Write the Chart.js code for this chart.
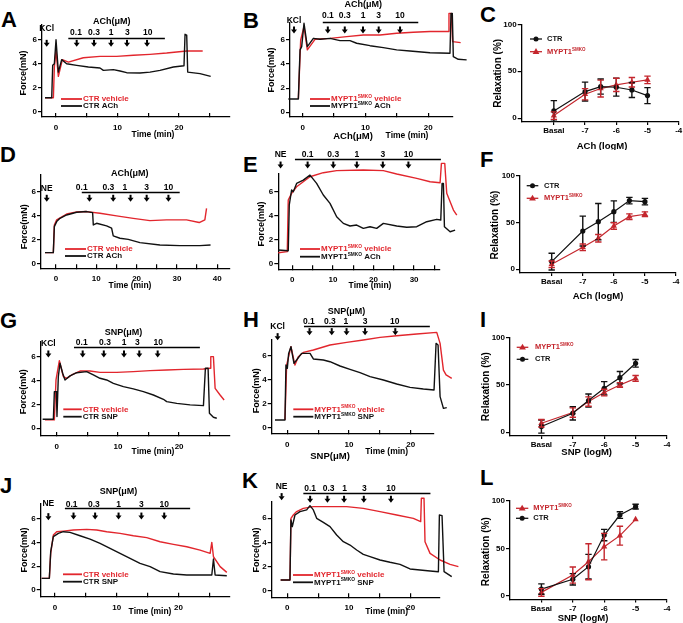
<!DOCTYPE html>
<html lang="en">
<head>
<meta charset="UTF-8">
<title>ACh / SNP relaxation, CTR vs MYPT1 SMKO</title>
<script src="https://cdn.jsdelivr.net/npm/chart.js"></script>
<style>
  body { margin: 0; width: 683px; height: 623px; position: relative; overflow: hidden; background: #fff;
         font-family: "Liberation Sans", Arial, sans-serif; }
  canvas { position: absolute; }
  .tag { position: absolute; font-weight: bold; font-size: 22px; line-height: 22px; color: #000; }
</style>
</head>
<body>
<div class="tag" style="left:1px;top:9px">A</div>
<div class="tag" style="left:243px;top:10px">B</div>
<div class="tag" style="left:480px;top:4px">C</div>
<div class="tag" style="left:0px;top:144px">D</div>
<div class="tag" style="left:243px;top:154px">E</div>
<div class="tag" style="left:480px;top:149px">F</div>
<div class="tag" style="left:0px;top:310px">G</div>
<div class="tag" style="left:243px;top:309px">H</div>
<div class="tag" style="left:480px;top:309px">I</div>
<div class="tag" style="left:0px;top:475px">J</div>
<div class="tag" style="left:242px;top:470px">K</div>
<div class="tag" style="left:480px;top:467px">L</div>
<script>
const RED = '#e2262d';
const DOSE_RED = '#c4262d';
const BLACK = '#111111';
const FONT = '"Liberation Sans", Arial, sans-serif';

// ---------- force traces, points are [time (min), force (mN)] ----------
const A_vehicle = [[-1.79,1.19],[-0.43,1.19],[-0.27,3.73],[0,5.11],[0.38,2.96],[1.03,4.34],[2.01,4.14],[4.44,4.5],[7.15,4.61],[9.86,4.61],[12.57,4.7],[15.28,4.78],[17.99,4.89],[21.25,5.06],[23.85,5.06]];
const A_drug = [[-1.79,1.19],[-0.7,1.19],[-0.54,3.87],[-0.27,4.0],[0,5.99],[0.38,3.31],[0.92,4.34],[1.73,4.0],[3.36,3.87],[5.26,3.73],[7.15,3.65],[7.7,3.45],[9.32,3.51],[10.41,3.4],[11.49,3.26],[13.66,3.23],[15.28,3.31],[16.91,3.45],[19.08,3.73],[20.81,3.84],[20.98,6.44],[21.25,6.38],[21.41,3.31],[23.41,3.18],[25.15,2.96]];

const B_vehicle = [[-0.69,1.1],[-0.32,5.99],[0.21,7.1],[0.74,5.17],[1.96,6.05],[4.35,6.13],[7.0,6.27],[9.66,6.41],[12.31,6.41],[14.96,6.55],[17.61,6.63],[20.27,6.69],[23.18,6.69],[23.29,8.2],[23.66,8.2],[23.87,5.86],[25.15,5.77]];
const B_drug = [[-2.28,1.1],[-0.69,1.1],[-0.42,5.17],[-0.16,5.44],[0.21,7.38],[0.74,5.44],[1.7,6.13],[2.76,6.05],[4.35,6.13],[5.94,5.94],[7.53,5.94],[8.59,5.72],[10.72,5.52],[12.84,5.36],[14.96,5.17],[17.08,5.08],[20.27,4.94],[23.45,4.89],[23.61,8.2],[23.82,8.2],[23.98,4.61],[24.77,4.39],[26.1,4.34]];

const D_vehicle = [[-2.73,0.94],[-0.66,0.94],[-0.41,3.23],[0.17,3.65],[2.64,4.14],[5.12,4.31],[7.6,4.34],[10.91,4.2],[15.04,3.98],[19.17,3.78],[23.31,3.59],[27.44,3.65],[32.4,3.65],[35.54,3.43],[36.94,3.65],[37.36,4.61]];
const D_drug = [[-2.73,0.94],[-0.66,0.94],[-0.41,3.09],[0.17,3.51],[0.99,3.78],[2.64,4.06],[5.12,4.28],[7.6,4.34],[9.09,4.25],[9.26,3.23],[10.08,3.37],[12.56,3.15],[13.8,2.96],[14.21,2.32],[15.87,2.13],[17.93,2.04],[20.83,1.77],[25.79,1.57],[30.74,1.52],[35.7,1.52],[38.35,1.57]];

const E_vehicle = [[-3.45,0.89],[-1.23,0.98],[-0.99,5.31],[-0.16,5.87],[1.07,6.42],[2.71,6.84],[4.36,7.26],[7.64,7.6],[10.93,7.77],[17.5,7.82],[22.43,7.77],[25.72,7.49],[30.65,7.12],[33.94,6.84],[36.4,6.76],[36.73,8.38],[37.55,8.38],[38.04,5.87],[39.69,4.47],[40.51,4.05]];
const E_drug = [[-3.45,1.12],[-0.99,1.06],[-0.74,4.89],[-0.16,6.15],[0.25,6.01],[1.07,6.7],[2.71,6.98],[4.36,7.4],[6.0,6.7],[7.64,5.73],[9.29,5.03],[10.93,3.91],[12.57,3.35],[14.22,3.13],[15.86,3.21],[17.5,2.93],[19.15,3.07],[20.79,2.93],[22.43,3.35],[25.72,3.13],[28.18,3.02],[30.65,3.07],[33.11,3.49],[35.58,3.69],[36.57,3.63],[36.89,6.7],[37.22,6.7],[37.47,3.07],[38.87,2.65],[40.1,2.79]];

const G_vehicle = [[-1.91,0.7],[-0.38,0.7],[-0.11,4.05],[0.44,5.67],[1.09,4.33],[1.63,4.19],[2.45,4.47],[3.81,4.8],[5.45,4.8],[7.08,4.69],[9.81,4.69],[12.53,4.75],[15.26,4.83],[17.98,4.89],[20.71,4.94],[23.98,4.97],[25.07,5.03],[25.18,6.01],[25.61,6.01],[25.89,3.35],[26.7,2.79],[27.36,2.37]];
const G_drug = [[-2.29,0.75],[-0.54,0.75],[-0.38,3.07],[-0.05,3.07],[0.05,0.98],[0.27,4.33],[0.54,5.45],[0.98,4.61],[1.36,4.05],[2.18,4.39],[3.27,4.66],[4.9,4.75],[5.99,4.47],[7.08,4.19],[8.17,4.05],[9.26,3.77],[10.9,3.49],[12.53,3.3],[14.17,3.07],[15.8,2.79],[17.44,2.43],[17.98,2.23],[19.62,2.09],[21.8,1.96],[23.98,1.9],[24.3,5.03],[24.74,5.03],[24.96,1.26],[25.61,0.92],[26.16,0.84]];

const H_vehicle = [[-0.38,0.61],[-0.11,5.22],[0.59,6.76],[1.24,5.22],[1.78,5.92],[2.59,6.28],[4.22,6.48],[6.92,6.9],[9.62,7.12],[12.32,7.32],[15.03,7.54],[17.73,7.68],[20.97,7.82],[24.22,7.96],[24.76,7.04],[25.3,4.8],[25.73,4.39],[26.65,4.11]];
const H_drug = [[-2.0,0.61],[-0.38,0.61],[-0.22,5.22],[0,4.94],[0.22,6.2],[0.59,6.76],[1.08,5.36],[1.51,5.64],[2.32,6.2],[3.68,6.2],[4.22,5.73],[5.84,5.64],[6.92,5.5],[8.54,5.14],[10.16,4.86],[11.78,4.58],[13.41,4.25],[15.57,3.97],[17.73,3.63],[19.89,3.35],[22.05,3.21],[23.78,3.13],[24.11,7.04],[24.43,6.9],[24.76,2.57],[25.3,1.59],[25.84,1.65]];

const J_vehicle = [[-2.16,0.98],[-0.92,0.98],[-0.7,3.07],[-0.27,4.61],[0.27,4.89],[1.35,4.94],[2.97,5.03],[5.14,5.08],[6.76,5.03],[8.38,4.89],[10.54,4.75],[12.7,4.55],[14.86,4.39],[17.03,4.05],[19.19,3.83],[21.35,3.63],[23.51,3.35],[25.14,3.07],[25.41,3.99],[25.68,2.79],[26.76,1.96],[27.84,1.48]];
const J_drug = [[-2.16,0.98],[-0.92,0.98],[-0.7,3.21],[-0.27,4.47],[0.54,4.75],[1.35,4.89],[2.43,4.83],[4.05,4.55],[5.68,4.27],[7.3,3.91],[8.92,3.49],[10.54,3.07],[12.16,2.65],[13.78,2.23],[15.41,1.96],[17.03,1.54],[19.19,1.34],[21.35,1.26],[25.41,1.26],[25.68,2.6],[25.95,1.26],[27.84,1.2]];

const K_vehicle = [[-1.08,0.88],[0.43,0.88],[0.59,5.99],[0.97,6.27],[1.51,6.55],[2.59,6.82],[4.22,6.96],[6.92,6.96],[9.62,6.96],[12.32,6.82],[15.03,6.55],[17.73,6.27],[20.43,5.99],[21.62,5.72],[21.73,7.65],[22.16,7.65],[22.32,4.06],[23.14,3.09],[24.76,2.54],[26.38,2.18],[27.73,1.99]];
const K_drug = [[-1.08,0.88],[0.43,0.88],[0.59,5.86],[0.81,5.3],[1.24,6.27],[2.05,6.55],[3.14,6.69],[3.68,7.04],[4.22,6.69],[4.76,5.99],[5.84,5.66],[6.92,5.3],[8.0,4.61],[9.08,4.06],[10.16,3.78],[11.24,3.37],[12.32,3.01],[13.41,2.82],[15.03,2.54],[16.65,2.35],[18.27,2.18],[19.89,1.8],[21.51,1.71],[23.14,1.63],[24.49,1.57],[24.65,6.27],[25.08,6.22],[25.41,1.57],[26.65,1.16]];

// ---------- drug additions (time, min) ----------
const doseLabels = ['0.1', '0.3', '1', '3', '10'];
const A_labelT = [3.25, 6.18, 8.95, 11.6, 14.9], A_arrowT = [3.36, 6.18, 8.95, 11.54, 14.8], A_bar = [2.0, 17.7];
const B_labelT = [4.0, 6.7, 9.6, 12.1, 15.5], B_arrowT = [4.0, 6.7, 9.6, 12.1, 15.5], B_bar = [3.2, 18.4];
const D_labelT = [6.4, 13.0, 17.1, 22.5, 27.9], D_arrowT = [8.3, 14.2, 18.5, 22.5, 27.9], D_bar = [6.4, 30.7];
const E_labelT = [3.78, 10.1, 15.9, 22.3, 28.6], E_arrowT = [3.78, 10.1, 15.9, 22.3, 28.6], E_bar = [0.66, 36.6];
const G_labelT = [4.09, 7.9, 11.0, 13.2, 16.6], G_arrowT = [4.25, 7.7, 11.0, 13.5, 16.5], G_bar = [2.83, 23.4];
const H_labelT = [3.5, 6.9, 9.5, 12.6, 17.4], H_arrowT = [3.6, 7.2, 9.6, 12.6, 17.5], H_bar = [2.7, 23.1];
const J_labelT = [2.7, 6.3, 10.3, 14.0, 17.7], J_arrowT = [3.0, 6.5, 10.3, 14.0, 17.7], J_bar = [1.6, 21.9];
const K_labelT = [3.7, 6.7, 9.3, 12.5, 16.8], K_arrowT = [3.7, 6.5, 9.2, 12.4, 16.8], K_bar = [2.6, 23.2];

// ---------- concentration-response (relaxation %, mean and SEM) ----------
const logDose = [-8, -7, -6.5, -6, -5.5, -5];   // -8 is drawn as "Basal"
const C_ctr = [7.8, 28.4, 33.7, 33.0, 30.1, 24.1], C_ctrErr = [11, 10, 8, 9.5, 8, 8.5];
const C_ko  = [2.8, 25.5, 31.6, 35.5, 38.3, 40.8], C_koErr = [4, 6, 9, 7, 5, 4];
const F_ctr = [8.2, 41.0, 51.0, 61.8, 73.6, 72.5], F_ctrErr = [9, 16, 19.5, 11.5, 3.5, 3.5];
const F_ko  = [5.4, 23.6, 33.2, 46.4, 56.4, 59.0], F_koErr = [3.5, 3.5, 4, 3.5, 3, 2.5];
const I_ko  = [9.5, 20.8, 32.4, 42.0, 50.0, 57.0], I_koErr = [4, 5, 5, 3.5, 2.5, 3];
const I_ctr = [6.0, 20.0, 33.5, 46.5, 57.7, 72.9], I_ctrErr = [7, 7, 7, 7, 6.5, 4];
const L_ko  = [3.5, 21.8, 35.9, 51.8, 63.4, 80.6], L_koErr = [4, 8.5, 19, 14, 10, 0];
const L_ctr = [7.0, 17.3, 30.6, 64.0, 85.2, 94.0], L_ctrErr = [5.5, 6, 13, 6, 3.5, 2.5];

// ---------- tick values ----------
const forceTicks = [0, 2, 4, 6];
const relaxTicks = [0, 50, 100];
const logTicks = [-8, -7, -6, -5, -4];
const time25 = [0, 5, 10, 15, 20, 25];
const time20 = [0, 5, 10, 15, 20];
const time40 = [0, 5, 10, 15, 20, 25, 30, 35, 40];
const time35 = [0, 5, 10, 15, 20, 25, 30, 35];

const panels = {};

function makeCanvas(id, box) {
  const c = document.createElement('canvas');
  c.id = id;
  c.width = box[2]; c.height = box[3];
  c.style.left = box[0] + 'px'; c.style.top = box[1] + 'px';
  c.style.width = box[2] + 'px'; c.style.height = box[3] + 'px';
  document.body.appendChild(c);
  return c;
}

// min/max are set after the data limits (not as user bounds) so the line
// controller keeps the points that run past the axis end (traces go beyond it)
function scaleOpts(o) {
  return {
    type: 'linear', bounds: 'data',
    afterDataLimits: s => { s.min = o.min; s.max = o.max; },
    afterBuildTicks: s => { s.ticks = o.ticks.map(v => ({ value: v })); },
    afterFit: s => {
      if (o.isX) s.height = o.size; else s.width = o.size;
      s.paddingLeft = s.paddingRight = s.paddingTop = s.paddingBottom = 0;
    },
    grid: { drawOnChartArea: false, tickLength: o.tickLength, color: '#000', lineWidth: 1.2 },
    border: { color: '#000', width: 1.3 },
    ticks: { color: '#000', font: { size: 8, weight: 'bold', family: FONT }, padding: o.pad,
             maxRotation: 0, autoSkip: false, callback: o.label }
  };
}

function richText(ctx, str, x, y, size) {
  const parts = str.split(/\^(\w+)/);
  let cx = x;
  parts.forEach((t, i) => {
    if (!t) return;
    const sup = i % 2 === 1;
    ctx.font = `bold ${sup ? size * 0.6 : size}px ${FONT}`;
    ctx.fillText(t, cx, sup ? y - size * 0.3 : y);
    cx += ctx.measureText(t).width;
  });
}

function arrow(ctx, px, py) {
  ctx.fillRect(px - 1, py - 3.5, 2, 3.5);
  ctx.beginPath();
  ctx.moveTo(px - 3, py - 0.5); ctx.lineTo(px + 3, py - 0.5); ctx.lineTo(px, py + 3.5);
  ctx.closePath(); ctx.fill();
}

function marker(ctx, kind, px, py) {
  ctx.beginPath();
  if (kind === 'ko') {
    ctx.moveTo(px, py - 3.6); ctx.lineTo(px + 3.4, py + 2.3); ctx.lineTo(px - 3.4, py + 2.3); ctx.closePath();
  } else {
    ctx.arc(px, py, 2.5, 0, Math.PI * 2);
  }
  ctx.fill();
}

// axis titles, legends, drug annotations
const decor = {
  id: 'decor',
  afterDraw(chart) {
    const p = panels[chart.canvas.id];
    if (!p) return;
    const ctx = chart.ctx, sx = chart.scales.x, sy = chart.scales.y;
    const ox = p.box[0], oy = p.box[1];
    ctx.save();
    ctx.fillStyle = '#000';
    ctx.textBaseline = 'middle';
    ctx.textAlign = 'center';

    // axis titles
    ctx.font = `bold ${p.dose ? 9.5 : 8.5}px ${FONT}`;
    ctx.fillText(p.xTitle[0], p.xTitle[1] - ox, p.xTitle[2] - oy);
    (p.extra || []).forEach(t => {
      ctx.font = `bold 9.5px ${FONT}`;
      ctx.fillText(t[0], t[1] - ox, t[2] - oy);
    });
    ctx.save();
    ctx.translate(p.yTitle[1] - ox, p.yTitle[2] - oy);
    ctx.rotate(-Math.PI / 2);
    ctx.font = `bold ${p.dose ? 10 : 9}px ${FONT}`;
    ctx.fillText(p.yTitle[0], 0, 0);
    ctx.restore();

    if (p.ann) {
      const a = p.ann;
      ctx.font = `bold 8.5px ${FONT}`;
      ctx.fillText(a.stim, sx.getPixelForValue(a.stimT), sy.getPixelForValue(a.stimLabelF));
      arrow(ctx, sx.getPixelForValue(a.stimT), sy.getPixelForValue(a.stimArrowF));
      if (a.title) {
        ctx.font = `bold 9px ${FONT}`;
        ctx.fillText(a.title, sx.getPixelForValue(a.titleAt[0]), sy.getPixelForValue(a.titleAt[1]));
      }
      ctx.font = `bold 8.5px ${FONT}`;
      a.labelT.forEach((t, i) => ctx.fillText(doseLabels[i], sx.getPixelForValue(t), sy.getPixelForValue(a.labelF)));
      a.arrowT.forEach(t => arrow(ctx, sx.getPixelForValue(t), sy.getPixelForValue(a.arrowF)));
      ctx.strokeStyle = '#000';
      ctx.lineWidth = 1.4;
      ctx.beginPath();
      const by = Math.round(sy.getPixelForValue(a.barF)) + 0.5;
      ctx.moveTo(sx.getPixelForValue(a.bar[0]), by);
      ctx.lineTo(sx.getPixelForValue(a.bar[1]), by);
      ctx.stroke();
    }

    // legend
    const lg = p.legend;
    ctx.textAlign = 'left';
    lg.rows.forEach(r => {
      const ly = r[0] - oy;
      if (p.dose) {
        const ko = r[1] === 'ko';
        const col = ko ? DOSE_RED : BLACK;
        ctx.strokeStyle = col; ctx.fillStyle = col; ctx.lineWidth = 1.3;
        ctx.beginPath(); ctx.moveTo(lg.x0 - ox, ly); ctx.lineTo(lg.x1 - ox, ly); ctx.stroke();
        marker(ctx, r[1], (lg.x0 + lg.x1) / 2 - ox, ly);
        richText(ctx, ko ? 'MYPT1^SMKO' : 'CTR', lg.tx - ox, ly, 7.5);
      } else {
        ctx.strokeStyle = r[2]; ctx.fillStyle = r[2]; ctx.lineWidth = 1.8;
        ctx.beginPath(); ctx.moveTo(lg.x0 - ox, ly); ctx.lineTo(lg.x1 - ox, ly); ctx.stroke();
        richText(ctx, r[1], lg.x1 + 1 - ox, ly, 8);
      }
    });
    ctx.restore();
  }
};

// vertical SEM bars with caps
const errorBars = {
  id: 'errorBars',
  afterDatasetsDraw(chart) {
    const ctx = chart.ctx, sy = chart.scales.y;
    chart.data.datasets.forEach((ds, i) => {
      if (!ds.errors) return;
      const meta = chart.getDatasetMeta(i);
      ctx.save();
      ctx.strokeStyle = ds.borderColor;
      ctx.lineWidth = 1.4;
      meta.data.forEach((pt, j) => {
        const e = ds.errors[j];
        if (!e) return;
        const v = ds.data[j].y;
        const yt = sy.getPixelForValue(v + e), yb = sy.getPixelForValue(v - e);
        ctx.beginPath();
        ctx.moveTo(pt.x, yt); ctx.lineTo(pt.x, yb);
        ctx.moveTo(pt.x - 3.2, yt); ctx.lineTo(pt.x + 3.2, yt);
        ctx.moveTo(pt.x - 3.2, yb); ctx.lineTo(pt.x + 3.2, yb);
        ctx.stroke();
      });
      ctx.restore();
    });
  }
};

function padding(p, yw, xh) {
  const [x0, y0, x1, y1] = p.area, [bl, bt, bw, bh] = p.box;
  return { left: x0 - bl - yw, top: y0 - bt, right: bl + bw - x1, bottom: bt + bh - y1 - xh };
}

function tracePanel(p) {
  panels[p.id] = p;
  const c = makeCanvas(p.id, p.box);
  const line = (pts, col) => ({
    data: pts.map(([x, y]) => ({ x, y })), borderColor: col, borderWidth: 1.4,
    pointRadius: 0, tension: 0, clip: false, borderJoinStyle: 'round'
  });
  new Chart(c, {
    type: 'line',
    data: { datasets: [line(p.black, BLACK), line(p.red, RED)] },
    options: {
      responsive: false, animation: false, events: [],
      layout: { padding: padding(p, 12, 14) },
      plugins: { legend: { display: false }, tooltip: { enabled: false } },
      scales: {
        x: scaleOpts({ min: p.x[0], max: p.x[1], ticks: p.xTicks, isX: true, size: 14, tickLength: -4, pad: 10,
                       label: v => (v % 10 === 0 ? String(v) : '') }),
        y: scaleOpts({ min: p.y[0], max: p.y[1], ticks: forceTicks, isX: false, size: 12, tickLength: 4, pad: 1,
                       label: v => String(v) })
      }
    },
    plugins: [decor]
  });
}

function dosePanel(p) {
  p.dose = true;
  panels[p.id] = p;
  const c = makeCanvas(p.id, p.box);
  new Chart(c, {
    type: 'line',
    data: {
      datasets: p.series.map(s => {
        const ko = s.kind === 'ko';
        const col = ko ? DOSE_RED : BLACK;
        return {
          data: logDose.map((d, i) => ({ x: d, y: s.mean[i] })), errors: s.err,
          borderColor: col, backgroundColor: col, borderWidth: 1.2,
          pointStyle: ko ? 'triangle' : 'circle', pointRadius: ko ? 3.6 : 2.6, pointBorderWidth: 0,
          tension: 0, clip: false
        };
      })
    },
    options: {
      responsive: false, animation: false, events: [],
      layout: { padding: padding(p, 20, 14) },
      plugins: { legend: { display: false }, tooltip: { enabled: false } },
      scales: {
        x: scaleOpts({ min: p.x[0], max: -4, ticks: logTicks, isX: true, size: 14, tickLength: 3, pad: 1,
                       label: v => (v === -8 ? 'Basal' : String(v)) }),
        y: scaleOpts({ min: -4, max: 100, ticks: relaxTicks, isX: false, size: 20, tickLength: 4, pad: 1,
                       label: v => String(v) })
      }
    },
    plugins: [errorBars, decor]
  });
}

tracePanel({ id: 'A', box: [0, 0, 232, 150], area: [42, 25, 230, 117], x: [-2.28, 28.29], y: [-0.41, 7.21], xTicks: time25,
  red: A_vehicle, black: A_drug,
  ann: { stim: 'KCl', stimT: -1.52, stimLabelF: 6.9, stimArrowF: 5.69, title: 'ACh(μM)', titleAt: [9.05, 7.46],
         labelT: A_labelT, labelF: 6.57, arrowT: A_arrowT, arrowF: 5.69, bar: A_bar, barF: 6.16 },
  xTitle: ['Time (min)', 153, 135], yTitle: ['Force(mN)', 24, 73],
  legend: { x0: 61, x1: 82, rows: [[99, 'CTR vehicle', RED], [106, 'CTR ACh', BLACK]] } });

tracePanel({ id: 'B', box: [232, 0, 238, 150], area: [290, 23, 453, 117], x: [-2.02, 23.93], y: [-0.39, 7.4], xTicks: time20,
  red: B_vehicle, black: B_drug,
  ann: { stim: 'KCl', stimT: -1.38, stimLabelF: 7.6, stimArrowF: 6.82, title: 'ACh(μM)', titleAt: [9.65, 8.9],
         labelT: B_labelT, labelF: 8.0, arrowT: B_arrowT, arrowF: 6.82, bar: B_bar, barF: 7.51 },
  xTitle: ['Time (min)', 407, 136], extra: [['ACh(μM)', 353, 136]], yTitle: ['Force(mN)', 271.7, 70],
  legend: { x0: 310, x1: 330, rows: [[99, 'MYPT1^SMKO vehicle', RED], [106, 'MYPT1^SMKO ACh', BLACK]] } });

dosePanel({ id: 'C', box: [470, 0, 213, 150], area: [521.7, 24.3, 678.7, 122], x: [-9.03],
  series: [{ kind: 'ctr', mean: C_ctr, err: C_ctrErr }, { kind: 'ko', mean: C_ko, err: C_koErr }],
  xTitle: ['ACh (logM)', 602, 146], yTitle: ['Relaxation (%)', 498.3, 73.3],
  legend: { x0: 530, x1: 542, tx: 547, rows: [[39, 'ctr'], [51.7, 'ko']] } });

tracePanel({ id: 'D', box: [0, 147, 232, 158], area: [41, 175, 230, 268.3], x: [-3.72, 43.18], y: [-0.36, 7.37], xTicks: time40,
  red: D_vehicle, black: D_drug,
  ann: { stim: 'NE', stimT: -2.3, stimLabelF: 6.27, stimArrowF: 5.44, title: 'ACh(μM)', titleAt: [18.3, 7.51],
         labelT: D_labelT, labelF: 6.35, arrowT: D_arrowT, arrowF: 5.44, bar: D_bar, barF: 5.94 },
  xTitle: ['Time (min)', 130, 286], yTitle: ['Force(mN)', 25, 226.7],
  legend: { x0: 65, x1: 86, rows: [[249, 'CTR vehicle', RED], [256, 'CTR ACh', BLACK]] } });

tracePanel({ id: 'E', box: [232, 147, 238, 158], area: [278.3, 174, 440, 269.3], x: [-3.44, 36.38], y: [-0.5, 7.49], xTicks: time35,
  red: E_vehicle, black: E_drug,
  ann: { stim: 'NE', stimT: -2.88, stimLabelF: 9.08, stimArrowF: 8.24, title: null,
         labelT: E_labelT, labelF: 9.08, arrowT: E_arrowT, arrowF: 8.24, bar: E_bar, barF: 8.72 },
  xTitle: ['Time (min)', 370, 286], yTitle: ['Force(mN)', 261.7, 224],
  legend: { x0: 300, x1: 320, rows: [[249, 'MYPT1^SMKO vehicle', RED], [256.7, 'MYPT1^SMKO ACh', BLACK]] } });

dosePanel({ id: 'F', box: [470, 147, 213, 158], area: [520, 176, 676, 273], x: [-9.02],
  series: [{ kind: 'ctr', mean: F_ctr, err: F_ctrErr }, { kind: 'ko', mean: F_ko, err: F_koErr }],
  xTitle: ['ACh (logM)', 598, 296.7], yTitle: ['Relaxation (%)', 495, 225],
  legend: { x0: 526.7, x1: 538.3, tx: 544, rows: [[185.7, 'ctr'], [198.3, 'ko']] } });

tracePanel({ id: 'G', box: [0, 303, 232, 159], area: [40.7, 341.7, 230, 436], x: [-2.61, 28.32], y: [-0.65, 7.26], xTicks: time25,
  red: G_vehicle, black: G_drug,
  ann: { stim: 'KCl', stimT: -1.36, stimLabelF: 7.12, stimArrowF: 6.23, title: 'SNP(μM)', titleAt: [10.9, 8.02],
         labelT: G_labelT, labelF: 7.2, arrowT: G_arrowT, arrowF: 6.23, bar: G_bar, barF: 6.79 },
  xTitle: ['Time (min)', 153, 451.7], yTitle: ['Force(mN)', 24, 391.7],
  legend: { x0: 63.3, x1: 81.7, rows: [[409.3, 'CTR vehicle', RED], [416.7, 'CTR SNP', BLACK]] } });

tracePanel({ id: 'H', box: [232, 303, 238, 159], area: [271.7, 340, 433.3, 434], x: [-2.53, 23.66], y: [-0.56, 7.32], xTicks: time20,
  red: H_vehicle, black: H_drug,
  ann: { stim: 'KCl', stimT: -1.57, stimLabelF: 8.44, stimArrowF: 7.6, title: 'SNP(μM)', titleAt: [9.6, 9.7],
         labelT: H_labelT, labelF: 8.85, arrowT: H_arrowT, arrowF: 8.02, bar: H_bar, barF: 8.49 },
  xTitle: ['Time (min)', 386.7, 451.7], extra: [['SNP(μM)', 330, 456.7]], yTitle: ['Force(mN)', 256.7, 390.8],
  legend: { x0: 293.3, x1: 313.3, rows: [[409.3, 'MYPT1^SMKO vehicle', RED], [416.7, 'MYPT1^SMKO SNP', BLACK]] } });

dosePanel({ id: 'I', box: [470, 303, 213, 159], area: [510, 337.7, 667, 436], x: [-9],
  series: [{ kind: 'ctr', mean: I_ctr, err: I_ctrErr }, { kind: 'ko', mean: I_ko, err: I_koErr }],
  xTitle: ['SNP (logM)', 586.7, 452.3], yTitle: ['Relaxation (%)', 486.7, 386.7],
  legend: { x0: 516.7, x1: 528.3, tx: 535, rows: [[347.3, 'ko'], [359.3, 'ctr']] } });

tracePanel({ id: 'J', box: [0, 460, 232, 163], area: [40.7, 503.3, 230, 596.7], x: [-2.32, 28.36], y: [-0.56, 7.27], xTicks: time25,
  red: J_vehicle, black: J_drug,
  ann: { stim: 'NE', stimT: -1.08, stimLabelF: 7.26, stimArrowF: 6.15, title: 'SNP(μM)', titleAt: [10.3, 8.24],
         labelT: J_labelT, labelF: 7.18, arrowT: J_arrowT, arrowF: 6.2, bar: J_bar, barF: 6.9 },
  xTitle: ['Time (min)', 150, 611.7], yTitle: ['Force(mN)', 25, 550],
  legend: { x0: 63, x1: 82, rows: [[574.3, 'CTR vehicle', RED], [581.7, 'CTR SNP', BLACK]] } });

tracePanel({ id: 'K', box: [232, 460, 238, 163], area: [271.7, 501.7, 440, 597.3], x: [-2.53, 24.75], y: [-0.55, 7.37], xTicks: time20,
  red: K_vehicle, black: K_drug,
  ann: { stim: 'NE', stimT: -0.92, stimLabelF: 8.62, stimArrowF: 7.79, title: null,
         labelT: K_labelT, labelF: 8.43, arrowT: K_arrowT, arrowF: 7.57, bar: K_bar, barF: 8.07 },
  xTitle: ['Time (min)', 386.7, 611.7], yTitle: ['Force(mN)', 256.7, 550],
  legend: { x0: 293, x1: 313, rows: [[575, 'MYPT1^SMKO vehicle', RED], [582.3, 'MYPT1^SMKO SNP', BLACK]] } });

dosePanel({ id: 'L', box: [470, 460, 213, 163], area: [510, 501, 667, 599.5], x: [-9],
  series: [{ kind: 'ctr', mean: L_ctr, err: L_ctrErr }, { kind: 'ko', mean: L_ko, err: L_koErr }],
  xTitle: ['SNP (logM)', 583, 618.3], yTitle: ['Relaxation (%)', 486.7, 551.7],
  legend: { x0: 516, x1: 528.3, tx: 533.3, rows: [[508.3, 'ko'], [518.3, 'ctr']] } });
</script>
</body>
</html>
